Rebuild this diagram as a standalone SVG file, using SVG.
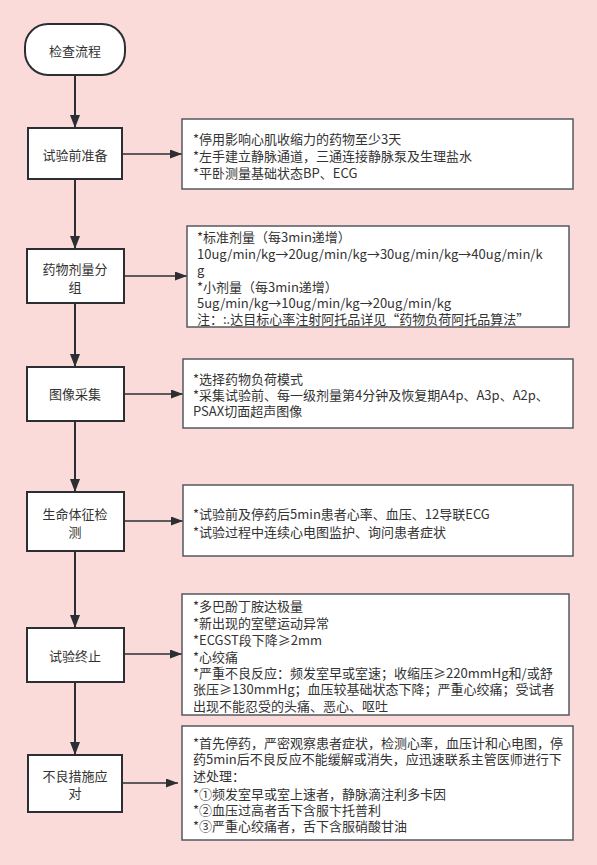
<svg xmlns="http://www.w3.org/2000/svg" width="597" height="865" viewBox="0 0 597 865">
<defs>
<style>
.n{fill:#fff;stroke:#2b2f33;stroke-width:2}
.b{fill:#fff;stroke:#55595e;stroke-width:1.5}
text{font-family:"Noto Sans CJK SC","Liberation Sans",sans-serif;font-size:13px;fill:#333;dominant-baseline:central}
.c{text-anchor:middle}
.v{stroke:#2b2f33;stroke-width:2;fill:none}
.h{stroke:#2b2f33;stroke-width:1.5;fill:none}
</style>
<marker id="av" markerUnits="userSpaceOnUse" markerWidth="13" markerHeight="10" refX="13" refY="5" orient="auto"><path d="M0,0 L13,5 L0,10 z" fill="#2b2f33"/></marker>
<marker id="ah" markerUnits="userSpaceOnUse" markerWidth="12" markerHeight="9" refX="12" refY="4.5" orient="auto"><path d="M0,0 L12,4.5 L0,9 z" fill="#2b2f33"/></marker>
</defs>
<rect width="597" height="865" fill="#fadbda"/>
<g id="connectors">
<line class="v" x1="75" y1="75" x2="75" y2="128" marker-end="url(#av)"/>
<line class="v" x1="75" y1="179" x2="75" y2="249" marker-end="url(#av)"/>
<line class="v" x1="75" y1="303" x2="75" y2="367" marker-end="url(#av)"/>
<line class="v" x1="75" y1="421" x2="75" y2="492" marker-end="url(#av)"/>
<line class="v" x1="75" y1="551" x2="75" y2="628" marker-end="url(#av)"/>
<line class="v" x1="75" y1="682" x2="75" y2="755" marker-end="url(#av)"/>
<line class="h" x1="122" y1="154" x2="182" y2="154" marker-end="url(#ah)"/>
<line class="h" x1="124" y1="276" x2="187" y2="276" marker-end="url(#ah)"/>
<line class="h" x1="124" y1="394" x2="183" y2="394" marker-end="url(#ah)"/>
<line class="h" x1="124" y1="521" x2="183" y2="521" marker-end="url(#ah)"/>
<line class="h" x1="124" y1="654" x2="182" y2="654" marker-end="url(#ah)"/>
<line class="h" x1="122" y1="783" x2="178" y2="783" marker-end="url(#ah)"/>
</g>
<g id="start">
<rect class="n" x="25" y="24" width="100" height="51" rx="23" ry="23"/>
<text class="c" x="75" y="50">检查流程</text>
</g>
<g id="prep">
<rect class="n" x="28" y="128" width="94" height="51"/>
<text class="c" x="75" y="154">试验前准备</text>
</g>
<g id="prep-note">
<rect class="b" x="182" y="119" width="391" height="70"/>
<text x="193" y="138">*停用影响心肌收缩力的药物至少3天</text>
<text x="193" y="155">*左手建立静脉通道，三通连接静脉泵及生理盐水</text>
<text x="193" y="172">*平卧测量基础状态BP、ECG</text>
</g>
<g id="dose">
<rect class="n" x="27" y="249" width="97" height="54"/>
<text class="c" x="75" y="268">药物剂量分</text>
<text class="c" x="75" y="286">组</text>
</g>
<g id="dose-note">
<rect class="b" x="187" y="226" width="382" height="101"/>
<text x="197" y="236">*标准剂量（每3min递增）</text>
<text x="197" y="253">10ug/min/kg→20ug/min/kg→30ug/min/kg→40ug/min/k</text>
<text x="197" y="269">g</text>
<text x="197" y="286">*小剂量（每3min递增）</text>
<text x="197" y="302">5ug/min/kg→10ug/min/kg→20ug/min/kg</text>
<text x="197" y="318">注：:.达目标心率注射阿托品详见“药物负荷阿托品算法”</text>
</g>
<g id="image">
<rect class="n" x="27" y="367" width="97" height="54"/>
<text class="c" x="75" y="393">图像采集</text>
</g>
<g id="image-note">
<rect class="b" x="183" y="359" width="390" height="69"/>
<text x="193" y="378">*选择药物负荷模式</text>
<text x="193" y="394">*采集试验前、每一级剂量第4分钟及恢复期A4p、A3p、A2p、</text>
<text x="193" y="410">PSAX切面超声图像</text>
</g>
<g id="vital">
<rect class="n" x="27" y="492" width="97" height="59"/>
<text class="c" x="75" y="513">生命体征检</text>
<text class="c" x="75" y="531">测</text>
</g>
<g id="vital-note">
<rect class="b" x="183" y="485" width="390" height="71"/>
<text x="193" y="513">*试验前及停药后5min患者心率、血压、12导联ECG</text>
<text x="193" y="531">*试验过程中连续心电图监护、询问患者症状</text>
</g>
<g id="stop">
<rect class="n" x="27" y="628" width="97" height="54"/>
<text class="c" x="75" y="655">试验终止</text>
</g>
<g id="stop-note">
<rect class="b" x="182" y="594" width="387" height="121"/>
<text x="193" y="605">*多巴酚丁胺达极量</text>
<text x="193" y="622">*新出现的室壁运动异常</text>
<text x="193" y="639">*ECGST段下降≥2mm</text>
<text x="193" y="656">*心绞痛</text>
<text x="193" y="672">*严重不良反应：频发室早或室速；收缩压≥220mmHg和/或舒</text>
<text x="193" y="688">张压≥130mmHg；血压较基础状态下降；严重心绞痛；受试者</text>
<text x="193" y="705">出现不能忍受的头痛、恶心、呕吐</text>
</g>
<g id="adverse">
<rect class="n" x="28" y="755" width="94" height="57"/>
<text class="c" x="75" y="775">不良措施应</text>
<text class="c" x="75" y="792">对</text>
</g>
<g id="adverse-note">
<rect class="b" x="182" y="726" width="391" height="114"/>
<text x="193" y="742">*首先停药，严密观察患者症状，检测心率，血压计和心电图，停</text>
<text x="193" y="758">药5min后不良反应不能缓解或消失，应迅速联系主管医师进行下</text>
<text x="193" y="775">述处理：</text>
<text x="193" y="793">*①频发室早或室上速者，静脉滴注利多卡因</text>
<text x="193" y="809">*②血压过高者舌下含服卞托普利</text>
<text x="193" y="825">*③严重心绞痛者，舌下含服硝酸甘油</text>
</g>
</svg>
